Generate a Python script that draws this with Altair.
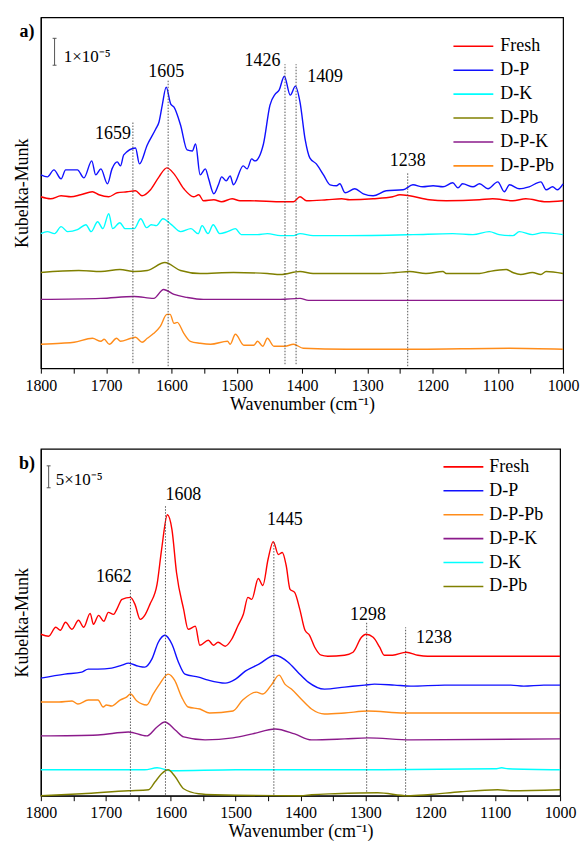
import altair as alt
import pandas as pd

FONT = "Liberation Serif"

# ---------------- Panel a) spectra (arbitrary offset units) ----------------
a_dp_wn = [1800, 1790, 1780, 1769, 1762, 1744, 1734, 1722, 1716, 1708, 1698, 1691, 1683, 1678, 1673, 1655, 1649,
           1637, 1624, 1619, 1614, 1608, 1601, 1596, 1586, 1576, 1568, 1563, 1556, 1548, 1543, 1535, 1528, 1523,
           1516, 1510, 1505, 1490, 1484, 1477, 1472, 1459, 1449, 1441, 1435, 1427, 1418, 1410, 1403, 1395, 1388,
           1378, 1367, 1357, 1347, 1342, 1334, 1319, 1306, 1291, 1271, 1245, 1230, 1215, 1199, 1184, 1169, 1161,
           1154, 1138, 1128, 1115, 1100, 1090, 1082, 1067, 1052, 1034, 1026, 1016, 1009, 1000]
a_dp_val = [194, 192, 199, 190, 199, 199, 191, 208, 194, 200, 185, 200, 207, 203, 214, 221, 205,
            224, 240, 247, 264, 282, 265, 262, 244, 219, 218, 225, 194, 200, 190, 175, 184, 192,
            188, 193, 184, 203, 200, 210, 208, 225, 264, 275, 279, 293, 274, 283, 267, 229, 211,
            205, 194, 184, 183, 185, 176, 180, 175, 173, 178, 179, 184, 182, 183, 182, 186, 181,
            185, 182, 185, 180, 187, 177, 184, 180, 182, 187, 179, 182, 179, 185]

a_fresh_wn = [1800, 1785, 1769, 1754, 1739, 1721, 1711, 1696, 1683, 1668, 1655, 1645, 1632, 1619, 1607, 1596,
              1581, 1566, 1558, 1551, 1535, 1523, 1507, 1495, 1480, 1429, 1413, 1403, 1393, 1362, 1339, 1327,
              1291, 1261, 1250, 1235, 1205, 1179, 1128, 1108, 1077, 1057, 1026, 1000]
a_fresh_val = [172, 170, 173, 172, 174, 177, 174, 172, 176, 177, 178, 173, 179, 192, 201, 195,
               180, 172, 174, 168, 169, 167, 170, 168, 168, 167, 167, 172, 168, 169, 170, 169,
               170, 172, 174, 173, 169, 168, 169, 170, 168, 170, 167, 168]

a_dk_wn = [1800, 1790, 1779, 1769, 1759, 1744, 1731, 1723, 1713, 1705, 1696, 1690, 1679, 1671, 1657, 1647,
           1638, 1631, 1623, 1613, 1600, 1586, 1570, 1559, 1553, 1544, 1536, 1526, 1514, 1502, 1493, 1468,
           1453, 1433, 1413, 1403, 1383, 1332, 1230, 1169, 1138, 1113, 1098, 1077, 1067, 1047, 1031, 1000]
a_dk_val = [135, 137, 135, 142, 137, 139, 144, 137, 147, 140, 155, 140, 146, 140, 140, 150,
            141, 144, 143, 150, 144, 137, 140, 135, 143, 135, 144, 135, 137, 140, 134, 134,
            135, 133, 133, 135, 133, 133, 134, 135, 134, 137, 134, 133, 137, 134, 136, 134]

a_dpb_wn = [1800, 1742, 1708, 1679, 1657, 1637, 1610, 1586, 1556, 1505, 1453, 1433, 1403, 1383, 1332, 1281,
            1256, 1235, 1210, 1184, 1179, 1128, 1113, 1087, 1077, 1065, 1047, 1034, 1026, 1000]
a_dpb_val = [96, 98, 97, 99, 97, 98, 106, 98, 95, 96, 95, 94, 97, 95, 95, 95,
             96, 97, 95, 97, 95, 95, 97, 99, 96, 94, 96, 94, 97, 95]

a_dpk_wn = [1800, 1708, 1657, 1627, 1612, 1596, 1576, 1551, 1433, 1403, 1390, 1000]
a_dpk_val = [69, 70, 72, 70, 79, 74, 71, 69, 69, 70, 68, 68]

a_dppb_wn = [1800, 1769, 1749, 1721, 1708, 1703, 1695, 1684, 1678, 1662, 1655, 1645, 1637, 1627, 1617, 1607,
             1602, 1596, 1591, 1581, 1571, 1556, 1540, 1514, 1510, 1502, 1489, 1474, 1468, 1460, 1453, 1443,
             1426, 1413, 1398, 1332, 1230, 1082, 1000]
a_dppb_val = [24, 25, 26, 30, 27, 29, 24, 30, 27, 30, 31, 26, 30, 35, 42, 54,
              54, 45, 46, 35, 27, 25, 24, 27, 24, 34, 23, 23, 27, 22, 30, 22,
              22, 24, 20, 19, 19, 20, 19]

# ---------------- Panel b) spectra ----------------
b_fresh_wn = [1800, 1788, 1777, 1770, 1762, 1752, 1742, 1734, 1724, 1719, 1711, 1703, 1696, 1688, 1683, 1675,
              1662, 1655, 1647, 1639, 1632, 1621, 1614, 1605, 1598, 1591, 1580, 1573, 1562, 1555, 1542, 1534,
              1527, 1516, 1506, 1496, 1488, 1481, 1475, 1465, 1458, 1450, 1442, 1434, 1428, 1422, 1416, 1409,
              1401, 1393, 1386, 1378, 1368, 1358, 1332, 1319, 1306, 1299, 1288, 1278, 1271, 1258, 1237, 1219,
              1204, 1000]
b_fresh_val = [162, 160, 169, 166, 174, 167, 176, 169, 183, 172, 181, 175, 184, 182, 187, 197,
               199, 192, 177, 182, 192, 212, 247, 282, 267, 224, 187, 167, 170, 151, 156, 151,
               154, 150, 157, 171, 182, 199, 197, 218, 211, 237, 255, 242, 244, 231, 207, 204,
               187, 166, 161, 149, 141, 140, 141, 144, 159, 162, 159, 149, 141, 141, 144, 141,
               140, 140]

b_dp_wn = [1800, 1763, 1737, 1727, 1712, 1691, 1675, 1665, 1650, 1640, 1629, 1619, 1609, 1598, 1588, 1578,
           1557, 1542, 1516, 1500, 1485, 1464, 1439, 1419, 1404, 1388, 1363, 1332, 1301, 1286, 1255, 1230,
           1178, 1127, 1076, 1056, 1025, 1000]
b_dp_val = [118, 122, 124, 127, 127, 128, 131, 133, 130, 129, 137, 154, 161, 152, 134, 122,
            119, 116, 113, 117, 125, 132, 141, 134, 124, 114, 107, 109, 111, 112, 111, 110,
            111, 111, 111, 110, 111, 111]

b_dppb_wn = [1800, 1772, 1752, 1743, 1727, 1712, 1704, 1699, 1691, 1678, 1668, 1662, 1652, 1637, 1627, 1617,
             1604, 1594, 1583, 1573, 1555, 1540, 1504, 1489, 1468, 1458, 1445, 1433, 1424, 1414, 1399, 1383,
             1363, 1332, 1296, 1240, 1000]
b_dppb_val = [94, 94, 95, 92, 96, 96, 89, 91, 90, 96, 99, 102, 95, 91, 102, 112,
              122, 116, 99, 89, 87, 83, 85, 96, 104, 102, 111, 121, 112, 107, 97, 87,
              82, 83, 85, 83, 83]

b_dpk_wn = [1800, 1712, 1665, 1637, 1621, 1609, 1593, 1580, 1547, 1504, 1474, 1439, 1409, 1383, 1332, 1296,
            1230, 1000]
b_dpk_val = [60, 61, 64, 60, 69, 74, 66, 59, 56, 58, 62, 67, 62, 56, 57, 58, 56, 57]

b_dk_wn = [1800, 1640, 1621, 1598, 1500, 1300, 1100, 1090, 1080, 1000]
b_dk_val = [26, 26, 28, 25, 26, 26, 27, 28, 27, 26]

b_dpb_wn = [1800, 1737, 1665, 1634, 1624, 1614, 1604, 1593, 1580, 1557, 1532, 1400, 1383, 1347, 1281, 1235,
            1204, 1153, 1096, 1076, 1000]
b_dpb_val = [0, 2, 5, 6, 14, 22, 26, 19, 7, 2, 1, 0, 1, 2, 3, 0, 1, 4, 6, 5, 6]

# ---------------- annotations ----------------
a_peak_wn = [1659, 1605, 1426, 1409, 1238]
a_peak_top = [247, 289, 305, 305, 196]
a_peak_bot = [5, 2, 4, 4, 2]
a_lbl_text = ["1659", "1605", "1426", "1409", "1238"]
a_lbl_x = [1662, 1608, 1433, 1392, 1238]
a_lbl_y = [230, 292, 303, 287, 203]
a_lbl_align = ["right", "center", "right", "left", "center"]

b_peak_wn = [1662, 1608, 1441, 1298, 1238]
b_peak_top = [207, 291, 256, 174, 169]
b_peak_bot = [1, 1, 1, 4, 0]
b_lbl_text = ["1662", "1608", "1445", "1298", "1238"]
b_lbl_x = [1660, 1608, 1424, 1296, 1222]
b_lbl_y = [214, 297, 272, 176, 153]
b_lbl_align = ["right", "left", "center", "center", "left"]

a_order = ["Fresh", "D-P", "D-K", "D-Pb", "D-P-K", "D-P-Pb"]
b_order = ["Fresh", "D-P", "D-P-Pb", "D-P-K", "D-K", "D-Pb"]
palette = {"Fresh": "#ff0000", "D-P": "#1010ff", "D-K": "#00ffff", "D-Pb": "#808000",
           "D-P-K": "#8b1a8b", "D-P-Pb": "#ff8c1a"}


def long_df(series):
    rows = []
    for name, wn, val in series:
        for w, v in zip(wn, val):
            rows.append({"series": name, "wn": w, "val": v})
    return pd.DataFrame(rows)


a_df = long_df([("Fresh", a_fresh_wn, a_fresh_val), ("D-P", a_dp_wn, a_dp_val), ("D-K", a_dk_wn, a_dk_val),
                ("D-Pb", a_dpb_wn, a_dpb_val), ("D-P-K", a_dpk_wn, a_dpk_val), ("D-P-Pb", a_dppb_wn, a_dppb_val)])
b_df = long_df([("Fresh", b_fresh_wn, b_fresh_val), ("D-P", b_dp_wn, b_dp_val), ("D-P-Pb", b_dppb_wn, b_dppb_val),
                ("D-P-K", b_dpk_wn, b_dpk_val), ("D-K", b_dk_wn, b_dk_val), ("D-Pb", b_dpb_wn, b_dpb_val)])


def panel(df, order, width, height, ytop, legx, legy, laboff,
          pk_wn, pk_top, pk_bot, lt, lx, ly, la, bar_x, bar_lo, bar_hi, bar_text, bar_tx, bar_ty, letter):
    xs = alt.Scale(domain=[1800, 1000], nice=False, zero=False)
    ys = alt.Scale(domain=[0, ytop], nice=False, zero=False)
    xaxis = alt.Axis(title="Wavenumber (cm\u207b\u00b9)", values=list(range(1800, 999, -50)),
                     labelExpr="datum.value % 100 == 0 ? datum.label : ''", format="d",
                     grid=False, tickSize=5, labelPadding=4, titlePadding=2, labelFlush=False,
                     labelOverlap=False)
    yaxis = alt.Axis(title="Kubelka-Munk", labels=False, ticks=False, grid=False, titlePadding=9)

    def X(f):
        return alt.X(f, scale=xs, axis=xaxis)

    def Y(f):
        return alt.Y(f, scale=ys, axis=yaxis)

    curves = alt.Chart(df).mark_line(strokeWidth=1.4, interpolate="monotone").encode(
        x=X("wn:Q"),
        y=Y("val:Q"),
        color=alt.Color("series:N", sort=order,
                        scale=alt.Scale(domain=order, range=[palette[s] for s in order]),
                        legend=alt.Legend(title=None, orient="none", legendX=legx, legendY=legy,
                                          symbolType="M-2,0H2", symbolSize=400, symbolStrokeWidth=1.6,
                                          labelFont=FONT, labelFontSize=18, labelColor="black",
                                          labelOffset=laboff, rowPadding=4, padding=0)),
        detail="series:N")

    peaks = pd.DataFrame({"wn": pk_wn, "top": pk_top, "bot": pk_bot})
    rules = alt.Chart(peaks).mark_rule(color="#444444", strokeWidth=0.9, strokeDash=[1.5, 1.5]).encode(
        x=X("wn:Q"), y=Y("bot:Q"), y2="top:Q")

    lbl = pd.DataFrame({"text": lt, "x": lx, "y": ly, "align": la})
    texts = []
    for al in ["left", "center", "right"]:
        texts.append(alt.Chart(lbl).transform_filter(alt.datum.align == al).mark_text(
            align=al, baseline="alphabetic", font=FONT, fontSize=18, color="black").encode(
            x=X("x:Q"), y=Y("y:Q"), text="text:N"))

    bar = pd.DataFrame({"x": [bar_x], "lo": [bar_lo], "hi": [bar_hi], "xl": [bar_x + 3], "xr": [bar_x - 3]})
    bar_v = alt.Chart(bar).mark_rule(color="#555555", strokeWidth=1).encode(
        x=X("x:Q"), y=Y("lo:Q"), y2="hi:Q")
    cap_lo = alt.Chart(bar).mark_rule(color="#555555", strokeWidth=1).encode(
        x=X("xl:Q"), x2="xr:Q", y=Y("lo:Q"))
    cap_hi = alt.Chart(bar).mark_rule(color="#555555", strokeWidth=1).encode(
        x=X("xl:Q"), x2="xr:Q", y=Y("hi:Q"))
    bar_lbl = alt.Chart(pd.DataFrame({"t": [bar_text], "x": [bar_tx], "y": [bar_ty]})).mark_text(
        align="left", baseline="alphabetic", font=FONT, fontSize=17, color="black").encode(
        x=X("x:Q"), y=Y("y:Q"), text="t:N")

    letter_mark = alt.Chart(pd.DataFrame({"t": [letter]})).mark_text(
        x=-14, y=20, align="center", baseline="alphabetic", font=FONT, fontSize=18,
        fontWeight="bold", color="black").encode(text="t:N")

    return alt.layer(curves, rules, *texts, bar_v, cap_lo, cap_hi, bar_lbl, letter_mark).properties(
        width=width, height=height)


pa = panel(a_df, a_order, 524, 352, 352, 423, 18, 16,
           a_peak_wn, a_peak_top, a_peak_bot, a_lbl_text, a_lbl_x, a_lbl_y, a_lbl_align,
           1779, 304, 331, "1\u00d710\u207b\u2075", 1765, 307, "a)")
pb = panel(b_df, b_order, 521, 348, 348, 413, 7, 15,
           b_peak_wn, b_peak_top, b_peak_bot, b_lbl_text, b_lbl_x, b_lbl_y, b_lbl_align,
           1788, 309, 331, "5\u00d710\u207b\u2075", 1777, 312, "b)")

chart = alt.vconcat(pa, pb, spacing=34).resolve_scale(
    color="independent", x="independent", y="independent").properties(
    padding={"left": 13, "top": 15, "right": 3, "bottom": 2}, background="white"
).configure_view(stroke="black", strokeWidth=1.2).configure_axis(
    domainColor="black", tickColor="black", labelColor="black", titleColor="black",
    labelFont=FONT, labelFontSize=16, titleFont=FONT, titleFontSize=18, titleFontWeight="normal",
    domainWidth=1.2
)

chart.save("out.html", embed_options={"renderer": "svg", "actions": False})
